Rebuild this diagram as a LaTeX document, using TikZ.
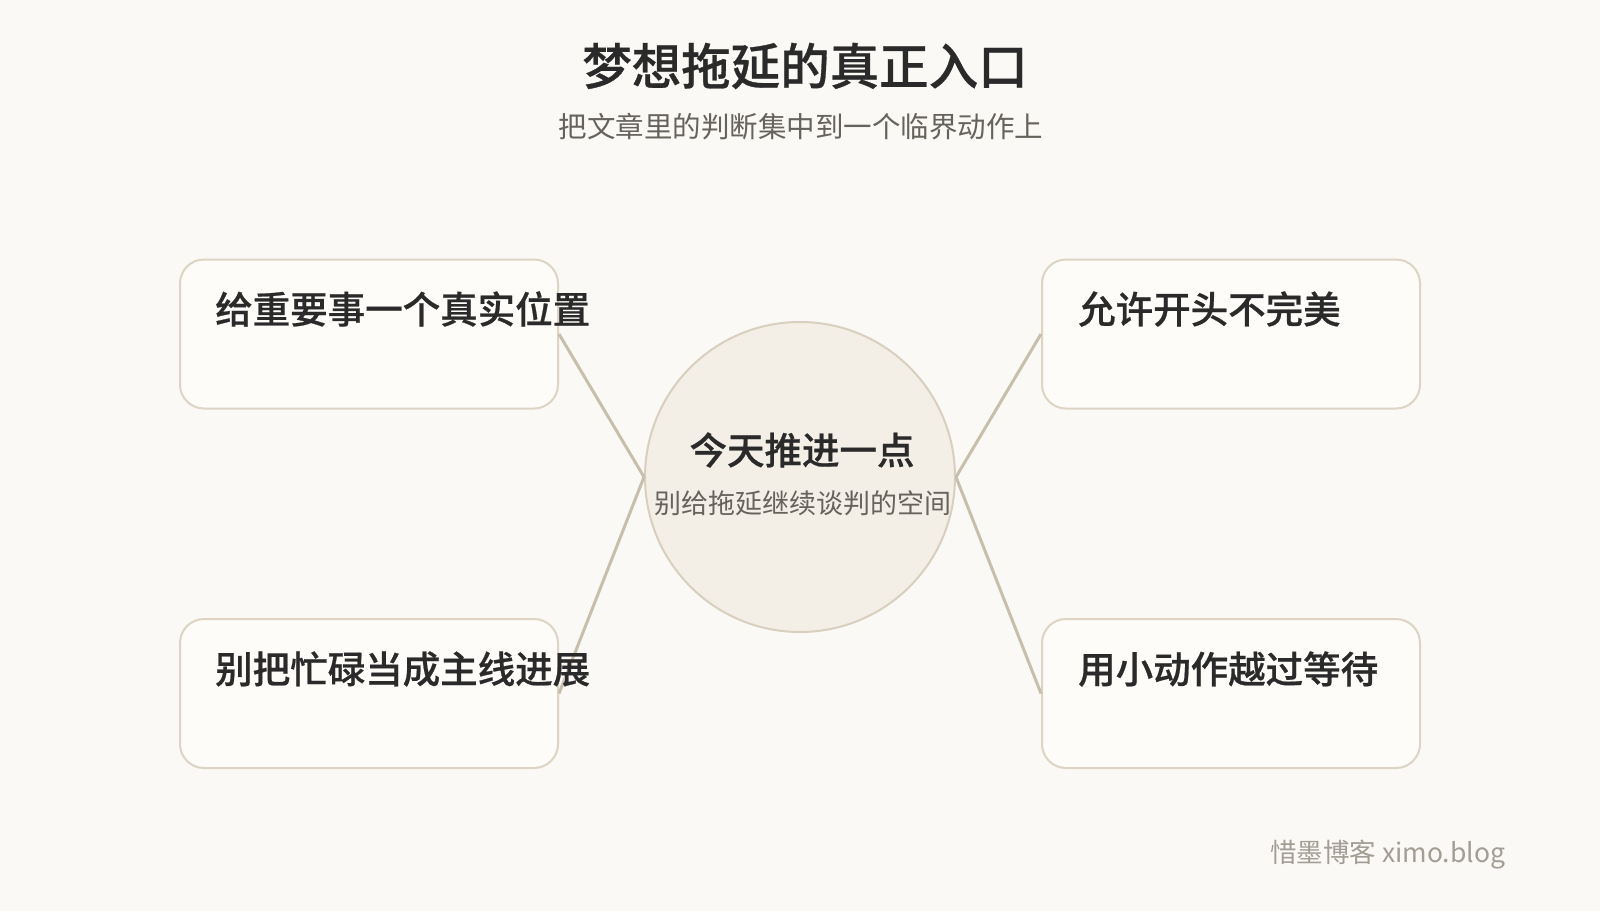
\documentclass[tikz,border=0pt]{standalone}
\usepackage{fontspec}
\setmainfont{Noto Sans CJK SC}[BoldFont={Noto Sans CJK SC Medium},BoldFeatures={FakeBold=0.6}]
\definecolor{bgc}{HTML}{FAF9F6}
\definecolor{boxfill}{HTML}{FDFCF9}
\definecolor{boxline}{HTML}{DDD4C4}
\definecolor{circfill}{HTML}{F3EFE7}
\definecolor{circline}{HTML}{D8CFBF}
\definecolor{linkc}{HTML}{C8BEAC}
\definecolor{darktext}{HTML}{2A2A2A}
\definecolor{subtext}{HTML}{66625C}
\definecolor{marktext}{HTML}{A39D93}
\begin{document}
\begin{tikzpicture}[x=1pt,y=-1pt,
  card/.style={draw=boxline,line width=2pt,fill=boxfill,rounded corners=24pt,minimum width=378pt,minimum height=149pt,inner sep=0pt},
  cardtext/.style={anchor=west,inner sep=0pt,text=darktext,font=\fontsize{37.5}{40}\selectfont\bfseries},
  hub/.style={circle,draw=circline,line width=2pt,fill=circfill,minimum size=310pt,inner sep=0pt},
  link/.style={draw=linkc,line width=3pt},
  ttl/.style={inner sep=0pt,text=darktext,font=\fontsize{49.5}{52}\selectfont\bfseries},
  subttl/.style={inner sep=0pt,text=subtext,font=\fontsize{28.5}{32}\selectfont}]
\fill[bgc] (0,0) rectangle (1600,911);
\useasboundingbox (0,0) rectangle (1600,911);
\node[ttl] (title) at (805,66) {梦想拖延的真正入口};
\node[subttl] (subtitle) at (801,127) {把文章里的判断集中到一个临界动作上};
\node[card] (b1) at (369,334) {};
\node[card] (b2) at (1231,334) {};
\node[card] (b3) at (369,693.5) {};
\node[card] (b4) at (1231,693.5) {};
\node[hub] (c) at (800,477) {};
\draw[link] (b1.east) -- (c.west);
\draw[link] (b3.east) -- (c.west);
\draw[link] (b2.west) -- (c.east);
\draw[link] (b4.west) -- (c.east);
\node[cardtext] (t1) at (215,309) {给重要事一个真实位置};
\node[cardtext] (t2) at (1078,309) {允许开头不完美};
\node[cardtext] (t3) at (215,669) {别把忙碌当成主线进展};
\node[cardtext] (t4) at (1078,669) {用小动作越过等待};
\node[inner sep=0pt,text=darktext,font=\fontsize{37.5}{40}\selectfont\bfseries] (ct) at (802,450) {今天推进一点};
\node[inner sep=0pt,text=subtext,font=\fontsize{27}{30}\selectfont] (cs) at (803,503) {别给拖延继续谈判的空间};
\node[anchor=west,inner sep=0pt,text=marktext,font=\fontsize{26.5}{30}\selectfont] (mark) at (1270,855) {惜墨博客 ximo.blog};
\end{tikzpicture}
\end{document}
